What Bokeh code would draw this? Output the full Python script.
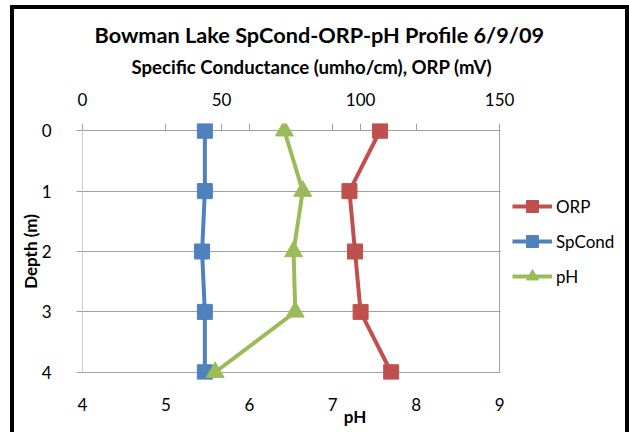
from bokeh.plotting import figure
from bokeh.models import (Range1d, LinearAxis, FixedTicker, Legend, LegendItem,
                          Title, ColumnDataSource)
from bokeh.embed import file_html
from bokeh.resources import INLINE

# ---- data ----
depth = [0, 1, 2, 3, 4]
orp = [107, 96, 98, 100, 111]
spcond = [44, 44, 43, 44, 44]
ph = [6.42, 6.64, 6.53, 6.55, 5.59]

depth_ticks = [0, 1, 2, 3, 4]
ph_ticks = [4, 5, 6, 7, 8, 9]
top_ticks = [0, 50, 100, 150]
top_minor = [30, 60, 90, 120]

FONT = "Lato"
GRID = "#A0A0A0"
RED = "#C0504D"
BLUE = "#4F81BD"
GREEN = "#9BBB59"
TXT = "#000000"

# ---- layout geometry (pixels) ----
W, H = 611, 423
LEFT, RIGHT, TOP, BOTTOM = 68, 6, 114, 57
AXIS_W = 411                      # pixel width of the pH 4..9 / 0..150 scale
PAD = 0.12                        # depth padding so end markers are not clipped
frame_w = W - LEFT - RIGHT
ph_end = ph_ticks[0] + (ph_ticks[-1] - ph_ticks[0]) * frame_w / AXIS_W
top_end = top_ticks[0] + (top_ticks[-1] - top_ticks[0]) * frame_w / AXIS_W

src = ColumnDataSource(dict(depth=depth, orp=orp, spcond=spcond, ph=ph))

p = figure(width=W, height=H, output_backend="svg", toolbar_location=None,
           x_range=Range1d(ph_ticks[0], ph_end),
           y_range=Range1d(depth_ticks[-1] + PAD, depth_ticks[0] - PAD),
           min_border_left=LEFT, min_border_right=RIGHT, min_border_top=TOP,
           min_border_bottom=BOTTOM, title=None)
p.styles = {"border-style": "solid", "border-color": "black",
            "border-width": "4px 4px 0px 4px", "box-sizing": "content-box",
            "margin": "5px 0px 0px 10px"}
p.extra_x_ranges = {"top": Range1d(top_ticks[0], top_end)}
p.outline_line_color = None
p.background_fill_color = "white"
p.border_fill_color = "white"
p.xgrid.visible = False
p.ygrid.visible = False

# bottom pH axis
xa = p.xaxis[0]
xa.ticker = FixedTicker(ticks=ph_ticks)
xa.axis_label = "pH"
xa.axis_line_color = None
xa.major_tick_line_color = None
xa.minor_tick_line_color = None
xa.major_tick_in = 0
xa.major_tick_out = 0
xa.major_label_standoff = 18
xa.axis_label_standoff = -8
xa.major_label_text_font = FONT
xa.major_label_text_font_size = "17px"
xa.major_label_text_color = TXT
xa.axis_label_text_font = FONT
xa.axis_label_text_font_size = "17px"
xa.axis_label_text_font_style = "bold"
xa.axis_label_text_color = TXT

# left depth axis (labels + short outer ticks)
ya = p.yaxis[0]
ya.ticker = FixedTicker(ticks=depth_ticks)
ya.bounds = (depth_ticks[0], depth_ticks[-1])
ya.axis_label = "Depth (m)"
ya.axis_line_color = None
ya.major_tick_line_color = GRID
ya.minor_tick_line_color = None
ya.major_tick_in = 0
ya.major_tick_out = 6
ya.major_label_standoff = 25
ya.axis_label_standoff = -2
ya.major_label_text_font = FONT
ya.major_label_text_font_size = "17px"
ya.major_label_text_color = TXT
ya.axis_label_text_font = FONT
ya.axis_label_text_font_size = "17px"
ya.axis_label_text_font_style = "bold"
ya.axis_label_text_color = TXT

# horizontal gridlines (long inward ticks) and left frame line at pH 4, under the data
ga = LinearAxis(fixed_location=ph_ticks[0], ticker=FixedTicker(ticks=depth_ticks),
                bounds=(depth_ticks[0], depth_ticks[-1]),
                major_label_overrides={t: "" for t in depth_ticks},
                major_label_standoff=0, axis_line_color=GRID,
                major_tick_line_color=GRID, minor_tick_line_color=None,
                major_tick_in=AXIS_W + 7, major_tick_out=0, level="underlay")
p.add_layout(ga, "left")

# vertical line closing the plot area at pH 9
ra = LinearAxis(fixed_location=ph_ticks[-1], ticker=FixedTicker(ticks=depth_ticks),
                bounds=(depth_ticks[0], depth_ticks[-1]),
                major_label_overrides={t: "" for t in depth_ticks},
                major_label_standoff=0, axis_line_color=GRID,
                major_tick_line_color=None, minor_tick_line_color=None,
                major_tick_in=0, major_tick_out=0, level="underlay")
p.add_layout(ra, "left")

# top axis (SpCond / ORP scale)
ta = LinearAxis(x_range_name="top",
                ticker=FixedTicker(ticks=top_ticks, minor_ticks=top_minor),
                axis_line_color=None, major_tick_line_color=GRID,
                minor_tick_line_color=GRID, major_tick_in=7, major_tick_out=0,
                minor_tick_in=7, minor_tick_out=0, major_label_standoff=18,
                major_label_text_font=FONT, major_label_text_font_size="17px",
                major_label_text_color=TXT)
p.add_layout(ta, "above")

sub = Title(text="Specific Conductance (umho/cm), ORP (mV)", align="left", offset=49,
            text_font=FONT, text_font_size="18.6px", text_font_style="bold",
            text_color=TXT, standoff=24)
p.add_layout(sub, "above")
main = Title(text="Bowman Lake SpCond-ORP-pH Profile 6/9/09", align="left", offset=12,
             text_font=FONT, text_font_size="21.7px", text_font_style="bold",
             text_color=TXT, standoff=-12)
p.add_layout(main, "above")

# series
rl = p.line(x="orp", y="depth", source=src, x_range_name="top", line_color=RED,
            line_width=4, line_join="round")
rs = p.scatter(x="orp", y="depth", source=src, x_range_name="top", marker="square",
               size=15, fill_color=RED, line_color=RED)
bl = p.line(x="spcond", y="depth", source=src, x_range_name="top", line_color=BLUE,
            line_width=4, line_join="round")
bs = p.scatter(x="spcond", y="depth", source=src, x_range_name="top", marker="square",
               size=15, fill_color=BLUE, line_color=BLUE)
gl = p.line(x="ph", y="depth", source=src, line_color=GREEN, line_width=4,
            line_join="round")
gs = p.scatter(x="ph", y="depth", source=src, marker="triangle", size=18,
               fill_color=GREEN, line_color=GREEN)

legend = Legend(items=[LegendItem(label="ORP", renderers=[rl, rs]),
                       LegendItem(label="SpCond", renderers=[bl, bs]),
                       LegendItem(label="pH", renderers=[gl, gs])],
                location=(AXIS_W + 19, 88), glyph_width=40, glyph_height=30,
                spacing=5, padding=0, margin=0, label_standoff=4,
                border_line_color=None, background_fill_alpha=0,
                label_text_font=FONT, label_text_font_size="17px",
                label_text_color=TXT)
p.add_layout(legend)

open("out.html", "w").write(file_html(p, INLINE))
